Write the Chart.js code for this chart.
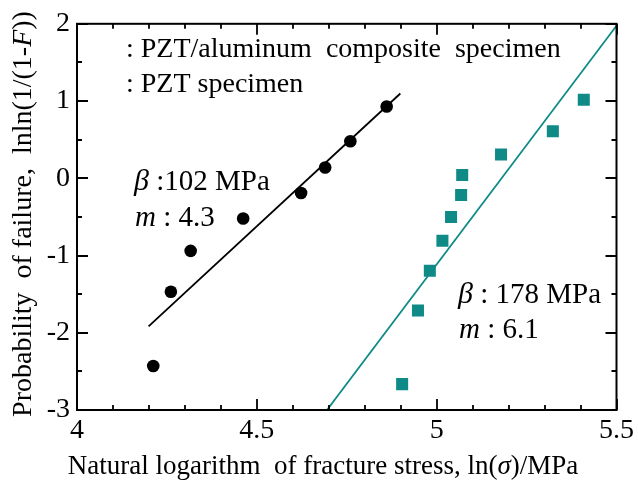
<!DOCTYPE html>
<html><head><meta charset="utf-8">
<script src="https://cdn.jsdelivr.net/npm/chart.js@4.4.1/dist/chart.umd.min.js"></script>
<style>html,body{margin:0;padding:0;background:#fff}canvas{display:block}</style>
</head><body>
<canvas id="c" width="638" height="488"></canvas>
<script>
// ---- data ----
const circleX = [4.212, 4.261, 4.316, 4.462, 4.623, 4.690, 4.760, 4.861];
const circleY = [-2.43, -1.47, -0.94, -0.52, -0.19, 0.14, 0.48, 0.93];
const squareX = [4.904, 4.948, 4.981, 5.016, 5.040, 5.068, 5.071, 5.179, 5.323, 5.409];
const squareY = [-2.665, -1.711, -1.196, -0.809, -0.50, -0.216, 0.041, 0.308, 0.608, 1.017];
const circleFitX = [4.199, 4.899];
const circleFitY = [-1.918, 1.098];
const squareFitX = [4.695, 5.5];
const squareFitY = [-3.0, 1.975];
const xTickValues = [4, 4.1, 4.2, 4.3, 4.4, 4.5, 4.6, 4.7, 4.8, 4.9, 5, 5.1, 5.2, 5.3, 5.4, 5.5];
const xMajorTicks = [4, 4.5, 5, 5.5];
const xTickLabels = ['4', '4.5', '5', '5.5'];
const yTickValues = [-3, -2.5, -2, -1.5, -1, -0.5, 0, 0.5, 1, 1.5, 2];
const yMajorTicks = [-3, -2, -1, 0, 1, 2];
const yTickLabels = ['-3', '-2', '-1', '0', '1', '2'];
const legendLabels = [': PZT/aluminum  composite  specimen', ': PZT specimen'];
const circleParams = {beta: ' :102 MPa', m: ' : 4.3'};
const squareParams = {beta: ' : 178 MPa', m: ' : 6.1'};

const TEAL = '#0f8a87';
const FAMILY = 'Liberation Serif';
Chart.defaults.font.family = FAMILY;
Chart.defaults.font.size = 28;
Chart.defaults.color = '#000';
function fnt(size, italic){ return (italic ? 'italic ' : '') + size + 'px "' + FAMILY + '", serif'; }
function drawRuns(ctx, runs, x, y, align){
  let w = 0;
  runs.forEach(r => { ctx.font = fnt(r.size, r.italic); w += ctx.measureText(r.text).width; });
  let cx = align === 'center' ? x - w / 2 : x;
  runs.forEach(r => { ctx.font = fnt(r.size, r.italic); ctx.fillText(r.text, cx, y); cx += ctx.measureText(r.text).width; });
}
const zip = (xs, ys) => xs.map((v, i) => ({x: v, y: ys[i]}));
function labelFor(v, values, labels){
  const i = values.findIndex(t => Math.abs(t - v) < 1e-9);
  return i >= 0 ? labels[i] : '';
}

const decor = {
  id: 'decor',
  afterDraw(chart){
    const {ctx, chartArea: a, scales: {x, y}} = chart;
    ctx.save();
    ctx.strokeStyle = '#000';
    ctx.lineWidth = 2;
    ctx.strokeRect(a.left, a.top, a.right - a.left, a.bottom - a.top);
    ctx.lineWidth = 1.8;
    ctx.beginPath();
    xTickValues.forEach(v => {
      const p = Math.round(x.getPixelForValue(v));
      const L = xMajorTicks.includes(v) ? 11 : 5;
      ctx.moveTo(p, a.bottom); ctx.lineTo(p, a.bottom - L);
      ctx.moveTo(p, a.top); ctx.lineTo(p, a.top + L);
    });
    yTickValues.forEach(v => {
      const p = Math.round(y.getPixelForValue(v));
      const L = yMajorTicks.includes(v) ? 11 : 5;
      ctx.moveTo(a.left, p); ctx.lineTo(a.left + L, p);
      ctx.moveTo(a.right, p); ctx.lineTo(a.right - L, p);
    });
    ctx.stroke();

    ctx.fillStyle = '#000';
    ctx.textBaseline = 'alphabetic';
    ctx.textAlign = 'left';
    drawRuns(ctx, [{text: legendLabels[0], size: 28}], 126, 57);
    drawRuns(ctx, [{text: legendLabels[1], size: 28}], 126, 92);
    drawRuns(ctx, [{text: 'β', size: 30, italic: true}, {text: circleParams.beta, size: 29}], 134, 190);
    drawRuns(ctx, [{text: 'm', size: 29, italic: true}, {text: circleParams.m, size: 29}], 135, 226);
    drawRuns(ctx, [{text: 'β', size: 30, italic: true}, {text: squareParams.beta, size: 29}], 458, 303);
    drawRuns(ctx, [{text: 'm', size: 29, italic: true}, {text: squareParams.m, size: 29}], 459, 338);
    drawRuns(ctx, [
      {text: 'Natural logarithm  of fracture stress, ln(', size: 27},
      {text: 'σ', size: 27, italic: true},
      {text: ')/MPa', size: 27}
    ], 323, 474, 'center');
    ctx.save();
    ctx.translate(31, 214);
    ctx.rotate(-Math.PI / 2);
    drawRuns(ctx, [
      {text: 'Probability  of failure,  lnln(1/(1-', size: 28},
      {text: 'F', size: 28, italic: true},
      {text: '))', size: 28}
    ], 0, 0, 'center');
    ctx.restore();
    ctx.restore();
  }
};

new Chart(document.getElementById('c'), {
  type: 'scatter',
  data: {
    datasets: [
      {label: 'fit1', data: zip(circleFitX, circleFitY), showLine: true, borderColor: '#000', borderWidth: 1.8, pointRadius: 0, fill: false},
      {label: 'fit2', data: zip(squareFitX, squareFitY), showLine: true, borderColor: TEAL, borderWidth: 1.8, pointRadius: 0, fill: false},
      {label: 'PZT/aluminum composite specimen', data: zip(circleX, circleY), pointStyle: 'circle', pointRadius: 6.3, backgroundColor: '#000', borderColor: '#000', borderWidth: 0},
      {label: 'PZT specimen', data: zip(squareX, squareY), pointStyle: 'rect', pointRadius: 8.5, backgroundColor: TEAL, borderColor: TEAL, borderWidth: 0}
    ]
  },
  options: {
    responsive: false,
    animation: false,
    devicePixelRatio: 1,
    layout: {padding: {left: 0, top: 22, right: 15, bottom: 0}},
    plugins: {legend: {display: false}, tooltip: {enabled: false}, title: {display: false}},
    scales: {
      x: {
        type: 'linear', min: 4, max: 5.5,
        border: {display: false},
        grid: {display: false, drawTicks: false},
        ticks: {stepSize: 0.5, padding: 4, color: '#000', font: {family: FAMILY, size: 28}, maxRotation: 0,
          callback: v => labelFor(v, xMajorTicks, xTickLabels)},
        afterFit(s){ s.height = 78; }
      },
      y: {
        type: 'linear', min: -3, max: 2,
        border: {display: false},
        grid: {display: false, drawTicks: false},
        ticks: {stepSize: 1, padding: 7, color: '#000', font: {family: FAMILY, size: 28},
          callback: v => labelFor(v, yMajorTicks, yTickLabels)},
        afterFit(s){ s.width = 77; }
      }
    }
  },
  plugins: [decor]
});
</script>
</body></html>
